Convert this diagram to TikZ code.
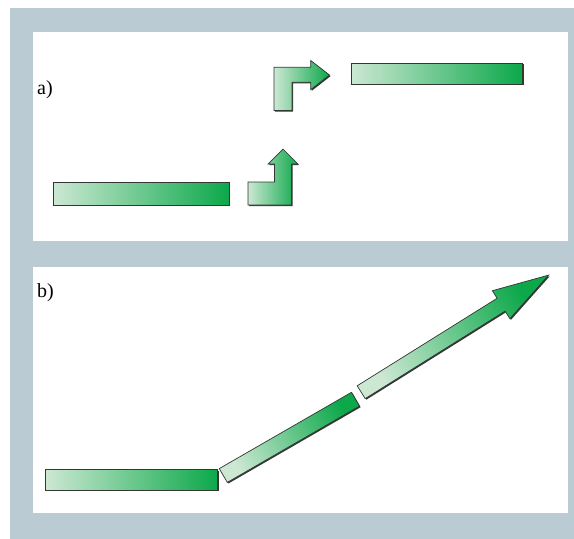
\documentclass[tikz,border=0pt]{standalone}
\usepackage{fontspec}
\setmainfont{Liberation Serif}
\usetikzlibrary{calc}
\definecolor{framegray}{RGB}{186,203,211}
\definecolor{glight}{RGB}{204,232,211}
\definecolor{gdark}{RGB}{12,168,74}
\definecolor{edge}{RGB}{50,55,52}
\tikzset{
  panel/.style={fill=white, draw=none},
  gshape/.style={left color=glight, right color=gdark, draw=edge, line width=0.7pt, line join=miter},
  gshadow/.style={fill=edge, draw=none},
  lbl/.style={anchor=base west, inner sep=0pt, font=\fontsize{20}{24}\selectfont}
}
\begin{document}
\begin{tikzpicture}[x=1pt,y=-1pt]
\useasboundingbox (0,0) rectangle (574,539);
\fill[framegray] (10,8) rectangle (574,539);
\fill[panel] (33,32) rectangle (568,241);
\fill[panel] (33,267) rectangle (568,513);

% ---------- panel a ----------
\node[lbl] (la) at (37,94) {a)};

% left bar
\fill[gshadow] (54.2,183.2) rectangle (230.2,206.2);
\path[gshape] (53,182) rectangle (229,205);

% lower L arrow
\fill[gshadow,shift={(1.1pt,-1.1pt)}] (248,205) -- (291.5,205) -- (291.5,164) -- (298,164) -- (283,149) -- (268,164) -- (274.5,164) -- (274.5,182) -- (248,182) -- cycle;
\path[gshape] (248,205) -- (291.5,205) -- (291.5,164) -- (298,164) -- (283,149) -- (268,164) -- (274.5,164) -- (274.5,182) -- (248,182) -- cycle;

% upper L arrow
\fill[gshadow,shift={(1.1pt,-1.1pt)}] (274,110.5) -- (292,110.5) -- (292,82.3) -- (310.7,82.3) -- (310.7,89.7) -- (329.5,75) -- (310.7,60.5) -- (310.7,67.3) -- (274,67.3) -- cycle;
\path[gshape] (274,110.5) -- (292,110.5) -- (292,82.3) -- (310.7,82.3) -- (310.7,89.7) -- (329.5,75) -- (310.7,60.5) -- (310.7,67.3) -- (274,67.3) -- cycle;

% right bar
\fill[gshadow] (352.2,64.2) rectangle (523.7,85.2);
\path[gshape] (351,63) rectangle (522.5,84);

% ---------- panel b ----------
\node[lbl] (lb) at (37,297) {b)};

% horizontal bar
\fill[gshadow] (46.9,470.5) rectangle (218.9,491.2);
\path[gshape] (45.7,469.3) rectangle (217.7,490);

% tilted bar
\fill[gshadow,shift={(1.1pt,-1.1pt)}] (219.3,468.6) -- (227.3,482.4) -- (359.5,406.1) -- (351.5,392.3) -- cycle;
\path[gshape, shading angle=120] (219.3,468.6) -- (227.3,482.4) -- (359.5,406.1) -- (351.5,392.3) -- cycle;

% long arrow
\fill[gshadow,shift={(1.1pt,-1.1pt)}] (357.2,385.8) -- (497.1,298.3) -- (492.4,290.7) -- (548.6,275.1) -- (509.9,318.7) -- (505.1,311.1) -- (365.2,398.6) -- cycle;
\path[gshape, shading angle=122] (357.2,385.8) -- (497.1,298.3) -- (492.4,290.7) -- (548.6,275.1) -- (509.9,318.7) -- (505.1,311.1) -- (365.2,398.6) -- cycle;
\end{tikzpicture}
\end{document}
